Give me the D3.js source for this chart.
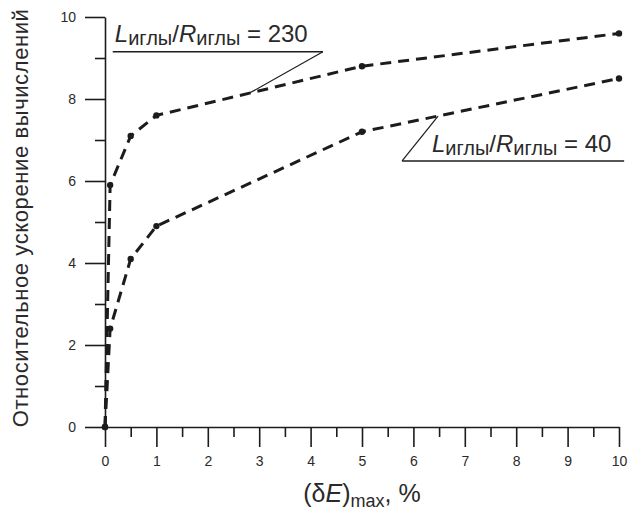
<!DOCTYPE html>
<html>
<head>
<meta charset="utf-8">
<script src="https://cdn.jsdelivr.net/npm/d3@7"></script>
<style>
body { margin: 0; background: #fff; }
text { font-family: "Liberation Sans", Arial, sans-serif; fill: #2a2a2a; }
</style>
</head>
<body>
<script>
// values: x = (dE)max, %, y = relative speed-up
var xValues = [0, 0.1, 0.5, 1, 5, 10];
var ratio230 = [0, 5.9, 7.1, 7.6, 8.8, 9.6];
var ratio40 = [0, 2.4, 4.1, 4.9, 7.2, 8.5];
var xTicks = [0, 1, 2, 3, 4, 5, 6, 7, 8, 9, 10];
var xMinor = [0.5, 1.5, 2.5, 3.5, 4.5, 5.5, 6.5, 7.5, 8.5, 9.5];
var yTicks = [0, 2, 4, 6, 8, 10];
var yMinor = [1, 3, 5, 7, 9];

var w = 638,
    h = 510;

var svg = d3.select("body").append("svg")
    .attr("width", w)
    .attr("height", h);

var xScale = d3.scaleLinear().domain([0, 10]).range([105, 619]);
var yScale = d3.scaleLinear().domain([0, 10]).range([427, 17]);

var ink = "#1c1c1c";

// axes
svg.append("g")
    .attr("transform", "translate(0," + yScale(0) + ")")
    .call(d3.axisBottom(xScale).tickValues(xTicks).tickSize(20).tickSizeOuter(0).tickPadding(9));
svg.append("g")
    .attr("transform", "translate(0," + yScale(0) + ")")
    .call(d3.axisBottom(xScale).tickValues(xMinor).tickSize(10).tickFormat(""))
    .select(".domain").remove();

svg.append("g")
    .attr("transform", "translate(" + xScale(0) + ",0)")
    .call(d3.axisLeft(yScale).tickValues(yTicks).tickSize(20).tickSizeOuter(0).tickPadding(9));
svg.append("g")
    .attr("transform", "translate(" + xScale(0) + ",0)")
    .call(d3.axisLeft(yScale).tickValues(yMinor).tickSize(10).tickFormat(""))
    .select(".domain").remove();

svg.selectAll(".domain, .tick line")
    .attr("stroke", ink)
    .attr("stroke-width", 1.6);
svg.selectAll(".tick text")
    .style("font-family", "'Liberation Sans', Arial, sans-serif")
    .style("font-size", "14px")
    .attr("fill", "#444");

// axis titles
svg.append("text")
    .attr("transform", "translate(28," + yScale(5.1) + ") rotate(-90)")
    .attr("text-anchor", "middle")
    .style("font-size", "22px")
    .style("letter-spacing", "0.6px")
    .text("Относительное ускорение вычислений");

var xTitle = svg.append("text")
    .attr("x", xScale(5))
    .attr("y", 502)
    .attr("text-anchor", "middle")
    .style("font-size", "25px");
xTitle.append("tspan").text("(δ");
xTitle.append("tspan").style("font-style", "italic").text("E");
xTitle.append("tspan").text(")");
xTitle.append("tspan").attr("dy", 5).style("font-size", "18px").text("max");
xTitle.append("tspan").attr("dy", -5).text(", %");

// curves
var lineFn = d3.line()
    .x(function (d) { return xScale(d[0]); })
    .y(function (d) { return yScale(d[1]); });

[ratio230, ratio40].forEach(function (ys) {
    var pts = xValues.map(function (x, i) { return [x, ys[i]]; });
    svg.append("path")
        .attr("d", lineFn(pts))
        .attr("fill", "none")
        .attr("stroke", ink)
        .attr("stroke-width", 3)
        .attr("stroke-dasharray", "11,7");
    svg.selectAll(null).data(pts).enter().append("circle")
        .attr("cx", function (d) { return xScale(d[0]); })
        .attr("cy", function (d) { return yScale(d[1]); })
        .attr("r", 3.2)
        .attr("fill", ink);
});

// labels with leader lines
function label(tx, ty, value, ux0, ux1, uy, from, px, py) {
    var t = svg.append("text")
        .attr("x", xScale(tx))
        .attr("y", yScale(ty))
        .style("font-size", "24px");
    t.append("tspan").style("font-style", "italic").text("L");
    t.append("tspan").attr("dy", 3).style("font-size", "20px").text("иглы");
    t.append("tspan").attr("dy", -3).text("/");
    t.append("tspan").style("font-style", "italic").text("R");
    t.append("tspan").attr("dy", 3).style("font-size", "20px").text("иглы");
    t.append("tspan").attr("dy", -3).text(" = " + value);

    svg.append("path")
        .attr("d", d3.line()([[xScale(ux0), yScale(uy)], [xScale(ux1), yScale(uy)]]))
        .attr("stroke", ink).attr("stroke-width", 1.5);
    svg.append("path")
        .attr("d", d3.line()([[xScale(from), yScale(uy)], [xScale(px), yScale(py)]]))
        .attr("stroke", ink).attr("stroke-width", 1.2);
}

label(0.19, 9.39, "230", 0.15, 4.24, 9.15, 4.24, 2.82, 8.15);
label(6.36, 6.7, "40", 5.78, 10.1, 6.49, 5.78, 6.48, 7.58);
</script>
</body>
</html>
